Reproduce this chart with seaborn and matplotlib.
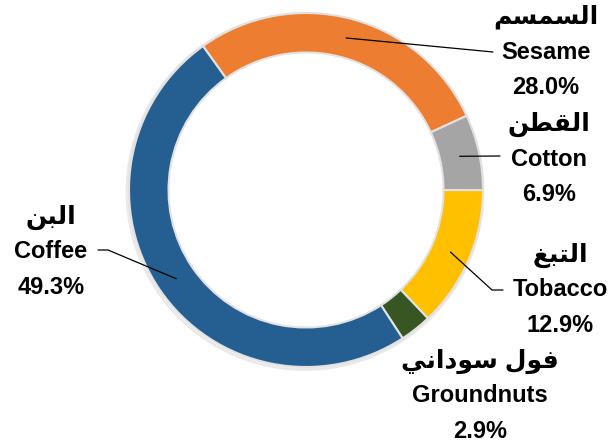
import numpy as np
import matplotlib
matplotlib.use("Agg")
import matplotlib.pyplot as plt
from matplotlib.patches import Circle
import seaborn as sns

# data (clockwise from the upper-left)
crops_ar = ["السمسم", "القطن", "التبغ", "فول سوداني", "البن"]
crops_en = ["Sesame", "Cotton", "Tobacco", "Groundnuts", "Coffee"]
shares = [28.0, 6.9, 12.9, 2.9, 49.3]
colors = ["#ED7D31", "#A5A5A5", "#FFC000", "#375623", "#255E91"]

# matplotlib has no arabic shaping, so pick the presentation forms by hand
# (isolated, final, initial, medial)
FORMS = {
    "ا": ("\uFE8D", "\uFE8E", None, None),
    "ل": ("\uFEDD", "\uFEDE", "\uFEDF", "\uFEE0"),
    "س": ("\uFEB1", "\uFEB2", "\uFEB3", "\uFEB4"),
    "م": ("\uFEE1", "\uFEE2", "\uFEE3", "\uFEE4"),
    "ق": ("\uFED5", "\uFED6", "\uFED7", "\uFED8"),
    "ط": ("\uFEC1", "\uFEC2", "\uFEC3", "\uFEC4"),
    "ن": ("\uFEE5", "\uFEE6", "\uFEE7", "\uFEE8"),
    "ت": ("\uFE95", "\uFE96", "\uFE97", "\uFE98"),
    "ب": ("\uFE8F", "\uFE90", "\uFE91", "\uFE92"),
    "غ": ("\uFECD", "\uFECE", "\uFECF", "\uFED0"),
    "ف": ("\uFED1", "\uFED2", "\uFED3", "\uFED4"),
    "و": ("\uFEED", "\uFEEE", None, None),
    "د": ("\uFEA9", "\uFEAA", None, None),
    "ي": ("\uFEF1", "\uFEF2", "\uFEF3", "\uFEF4"),
}


def shape_ar(s):
    out = []
    for i, c in enumerate(s):
        if c not in FORMS:
            out.append(c)
            continue
        prev = s[i - 1] if i > 0 else ""
        nxt = s[i + 1] if i < len(s) - 1 else ""
        jp = prev in FORMS and FORMS[prev][2] is not None
        jn = nxt in FORMS and FORMS[c][2] is not None
        if jp and jn:
            out.append(FORMS[c][3])
        elif jp:
            out.append(FORMS[c][1])
        elif jn:
            out.append(FORMS[c][2])
        else:
            out.append(FORMS[c][0])
    return "".join(out)[::-1]


sns.set_theme(style="white")
plt.rcParams["font.family"] = ["Liberation Sans", "DejaVu Sans"]

W, H = 608, 443
cx, cy, R, ring = 306, H - 190, 177, 39.5

fig = plt.figure(figsize=(6.08, 4.43), dpi=100)
ax = fig.add_axes([0, 0, 1, 1])
# soft grey halo round the ring
ax.add_patch(Circle((cx - 1, cy - 1.5), R + 1, fill=False, lw=2,
                    ec="#D4D4D4", alpha=0.5, zorder=0))
wedges, _ = ax.pie(shares, colors=sns.color_palette(colors), startangle=125.6,
                   counterclock=False, center=(cx, cy), radius=R,
                   wedgeprops=dict(width=ring, edgecolor="#E2E2E2", linewidth=1.5))
ax.set_xlim(0, W)
ax.set_ylim(0, H)
ax.set_aspect("equal")
ax.axis("off")

# label centres and leader elbows in pixel coords (y from top)
label_pos = [(546, 52), (549, 159), (560, 290), (480, 396), (51, 252)]
elbows = [[(493, 52)], [(500, 156)], [(492, 290), (503, 290)], [],
          [(108, 250), (98, 250)]]

r_mid = R - ring / 2
for w, ar, en, v, (lx, ly), pts in zip(wedges, crops_ar, crops_en, shares,
                                       label_pos, elbows):
    if pts:
        t = np.deg2rad((w.theta1 + w.theta2) / 2)
        xs = [cx + r_mid * np.cos(t)] + [p[0] for p in pts]
        ys = [cy + r_mid * np.sin(t)] + [H - p[1] for p in pts]
        ax.plot(xs, ys, color="black", lw=0.9)
    for k, line in enumerate([shape_ar(ar), en, f"{v:.1f}%"]):
        ax.text(lx, H - (ly + (k - 1) * 35), line, ha="center", va="center",
                fontsize=18 if k == 0 else 17, fontweight="bold", color="black")

fig.savefig("out.png", dpi=100)
